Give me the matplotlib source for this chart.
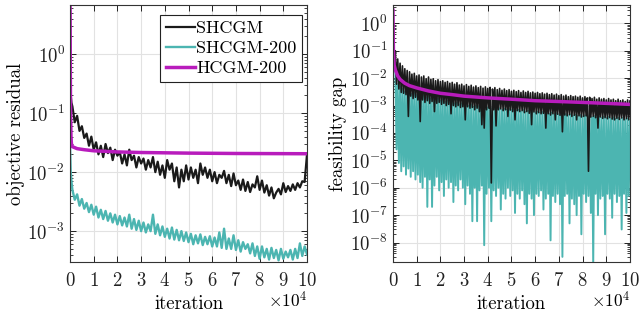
import numpy as np
import matplotlib
matplotlib.use("Agg")
import matplotlib.pyplot as plt

plt.rcParams['font.family'] = 'cmr10'
plt.rcParams['mathtext.fontset'] = 'cm'
plt.rcParams['axes.unicode_minus'] = False
plt.rcParams['axes.formatter.use_mathtext'] = True

c_black = '#1a1a1a'
c_teal = '#4cb5b1'
c_mag = '#b81cbc'

# ---------------- left panel: objective residual (x in units of 1e4) ----------------
x_grid = np.round(np.arange(0.1, 10.01, 0.1), 2)

shcgm_obj_start_x = [0.0, 0.03, 0.06]
shcgm_obj_start = [8.0, 0.2, 0.15]
shcgm_obj = [0.13, 0.07, 0.09, 0.05, 0.06, 0.038, 0.045, 0.028, 0.04, 0.024,
             0.032, 0.02, 0.028, 0.018, 0.03, 0.021, 0.026, 0.016, 0.024, 0.019,
             0.022, 0.014, 0.02, 0.013, 0.024, 0.016, 0.019, 0.012, 0.018, 0.014,
             0.017, 0.011, 0.016, 0.012, 0.018, 0.01, 0.015, 0.009, 0.013, 0.008,
             0.016, 0.011, 0.014, 0.007, 0.012, 0.0055, 0.011, 0.007, 0.013, 0.0075,
             0.012, 0.008, 0.011, 0.0065, 0.014, 0.009, 0.012, 0.008, 0.011, 0.007,
             0.01, 0.0065, 0.009, 0.008, 0.0105, 0.0065, 0.009, 0.0058, 0.0095, 0.006,
             0.0072, 0.005, 0.0075, 0.0048, 0.0068, 0.0046, 0.0062, 0.0055, 0.0085, 0.005,
             0.0072, 0.0045, 0.006, 0.004, 0.0055, 0.0036, 0.0045, 0.0052, 0.0042, 0.0065,
             0.0046, 0.0058, 0.0048, 0.0062, 0.005, 0.0065, 0.0055, 0.007, 0.0068, 0.02]

shcgm200_obj_start_x = [0.0, 0.03, 0.06]
shcgm200_obj_start = [0.03, 0.01, 0.007]
shcgm200_obj = [5.0e-3, 3.4e-3, 4.2e-3, 2.7e-3, 3.5e-3, 2.4e-3, 3.0e-3, 2.1e-3, 2.8e-3, 1.9e-3,
                2.6e-3, 1.7e-3, 2.3e-3, 1.6e-3, 2.2e-3, 1.5e-3, 2.0e-3, 1.4e-3, 1.9e-3, 1.3e-3,
                1.8e-3, 1.25e-3, 1.7e-3, 1.2e-3, 1.9e-3, 1.1e-3, 1.6e-3, 1.05e-3, 1.5e-3, 1.0e-3,
                1.4e-3, 0.95e-3, 1.3e-3, 1.0e-3, 1.9e-3, 0.9e-3, 1.3e-3, 0.85e-3, 1.2e-3, 0.8e-3,
                1.1e-3, 0.75e-3, 1.15e-3, 0.72e-3, 1.05e-3, 0.7e-3, 1.0e-3, 0.68e-3, 0.95e-3, 0.65e-3,
                0.9e-3, 0.6e-3, 0.85e-3, 0.62e-3, 0.88e-3, 0.58e-3, 0.8e-3, 0.6e-3, 0.82e-3, 0.55e-3,
                0.78e-3, 0.55e-3, 0.95e-3, 0.52e-3, 1.1e-3, 0.5e-3, 0.75e-3, 0.5e-3, 0.85e-3, 0.48e-3,
                0.7e-3, 0.45e-3, 0.65e-3, 0.5e-3, 0.6e-3, 0.42e-3, 0.62e-3, 0.38e-3, 0.55e-3, 0.34e-3,
                0.55e-3, 0.36e-3, 0.5e-3, 0.33e-3, 0.52e-3, 0.35e-3, 0.48e-3, 0.32e-3, 0.5e-3, 0.34e-3,
                0.45e-3, 0.36e-3, 0.48e-3, 0.33e-3, 0.5e-3, 0.35e-3, 0.62e-3, 0.38e-3, 0.55e-3, 0.4e-3]

hcgm_obj_x = [0, 0.01, 0.02, 0.04, 0.06, 0.1, 0.3, 0.6, 1, 2, 3, 5, 7, 10]
hcgm_obj = [8.0, 0.8, 0.15, 0.04, 0.03, 0.027, 0.025, 0.024, 0.023, 0.022, 0.0215, 0.021, 0.0207, 0.0205]

# ---------------- right panel: feasibility gap ----------------
# upper values at x_grid, lower values at x_grid + 0.05 (dense oscillation)
shcgm_feas_start_x = [0.0, 0.02, 0.05]
shcgm_feas_start = [3.0, 0.2, 0.08]
shcgm_feas_hi = [0.1, 0.05, 0.035, 0.028, 0.022, 0.019, 0.017, 0.014, 0.015, 0.012,
                 0.013, 0.011, 0.012, 0.0095, 0.011, 0.009, 0.0095, 0.008, 0.0088, 0.0075,
                 0.008, 0.007, 0.0075, 0.0065, 0.007, 0.006, 0.0068, 0.0056, 0.006, 0.0052,
                 0.0058, 0.005, 0.0055, 0.0047, 0.0052, 0.0045, 0.005, 0.0043, 0.0048, 0.0042,
                 0.0046, 0.004, 0.0045, 0.0038, 0.0042, 0.0036, 0.004, 0.0035, 0.0038, 0.0033,
                 0.0036, 0.0032, 0.0035, 0.003, 0.0034, 0.003, 0.0033, 0.0029, 0.0031, 0.0028,
                 0.003, 0.0027, 0.0029, 0.0026, 0.0028, 0.0025, 0.0027, 0.0024, 0.0026, 0.0023,
                 0.0025, 0.0022, 0.0024, 0.0021, 0.0023, 0.0021, 0.0022, 0.002, 0.0022, 0.0019,
                 0.0021, 0.0019, 0.002, 0.0018, 0.002, 0.0017, 0.0019, 0.0017, 0.0018, 0.0016,
                 0.0018, 0.0016, 0.0017, 0.0015, 0.0017, 0.0015, 0.0016, 0.0014, 0.0016, 0.0015]
shcgm_feas_lo = [0.006, 0.004, 0.003, 0.0028, 0.0025, 4e-4, 0.0022, 0.0018, 0.002, 0.0016,
                 2.6e-4, 0.0016, 0.0013, 0.0015, 0.0012, 0.0014, 6e-4, 0.0012, 0.0013, 0.0011,
                 0.0012, 0.001, 0.0011, 5e-4, 0.001, 0.0009, 0.001, 0.00085, 0.0009, 3e-4,
                 0.0009, 0.0008, 0.00085, 0.0007, 0.0008, 6e-4, 2e-4, 1.5e-4, 0.0007, 0.0008,
                 1.5e-6, 0.0007, 1.8e-4, 0.0007, 0.00075, 0.00065, 0.0007, 4e-4, 0.00068, 0.0006,
                 3e-4, 0.00065, 0.0006, 0.00065, 0.00055, 0.0006, 0.00052, 2e-4, 0.00058, 0.0005,
                 0.00055, 0.0005, 0.00052, 1.5e-4, 0.0005, 0.00045, 0.0005, 3e-4, 0.00048, 0.00044,
                 1.1e-4, 0.00045, 0.00042, 0.00046, 0.0004, 0.00044, 3e-4, 0.00042, 0.00038, 0.0004,
                 0.00042, 4e-6, 0.00038, 0.0004, 0.00036, 1.5e-4, 0.00038, 0.00034, 0.00036, 0.00033,
                 0.00036, 0.00032, 3e-4, 0.00034, 0.00031, 0.00035, 0.0003, 0.00033, 0.00031, 0.00032]

shcgm200_feas_start_x = [0.0, 0.02, 0.05]
shcgm200_feas_start = [2.0, 0.05, 0.02]
shcgm200_feas_hi = [0.02, 0.006, 0.005, 0.004, 0.0033, 0.0035, 0.003, 0.0027, 0.003, 0.0024,
                    0.0026, 0.0022, 0.0024, 0.002, 0.0022, 0.0018, 0.002, 0.0017, 0.0018, 0.0015,
                    0.0017, 0.0014, 0.0015, 0.0013, 0.0014, 0.0012, 0.0013, 0.0011, 0.0012, 0.0011,
                    0.0012, 0.001, 0.0011, 0.0009, 0.001, 0.00095, 0.0011, 0.0009, 0.00095, 0.00085,
                    0.0009, 0.0008, 0.00085, 0.00075, 0.0008, 0.0007, 0.00078, 0.0007, 0.00075, 0.00068,
                    0.00072, 0.00065, 0.0007, 0.00062, 0.00068, 0.0006, 0.00065, 0.00058, 0.00063, 0.00057,
                    0.0006, 0.00055, 0.00058, 0.00052, 0.00056, 0.0005, 0.00055, 0.00049, 0.00052, 0.00048,
                    0.0005, 0.00046, 0.00049, 0.00044, 0.00048, 0.00043, 0.00046, 0.00042, 0.00045, 0.0004,
                    0.00044, 0.0004, 0.00042, 0.00038, 0.00041, 0.00037, 0.0004, 0.00036, 0.00039, 0.00035,
                    0.00038, 0.00034, 0.00037, 0.00033, 0.00036, 0.00032, 0.00035, 0.00031, 0.00034, 0.0003]
shcgm200_feas_lo = [2.5e-5, 8e-6, 4e-6, 6e-6, 3e-6, 5e-6, 2.5e-6, 4e-6, 2e-6, 3e-6,
                    1.6e-6, 1e-6, 2.5e-6, 2e-7, 2e-6, 2e-7, 1.2e-6, 2.5e-6, 8e-7, 1.6e-6,
                    5e-7, 2e-6, 1e-6, 1.6e-6, 3e-7, 1.2e-6, 8e-7, 2e-6, 1e-6, 2.5e-7,
                    1.2e-6, 6e-7, 6e-8, 1e-6, 6e-8, 8e-7, 1.2e-6, 8e-9, 6e-7, 1e-6,
                    6e-8, 8e-7, 5e-7, 1e-6, 1.6e-7, 6e-7, 4e-7, 1e-6, 5e-7, 8e-7,
                    1.2e-7, 6e-7, 4e-7, 8e-7, 2.5e-7, 5e-8, 6e-7, 4e-7, 1e-7, 6e-7,
                    5e-7, 8e-7, 1.6e-7, 4e-7, 6e-7, 1.2e-8, 5e-7, 3e-7, 6e-7, 2.5e-7,
                    3e-9, 5e-7, 6e-7, 5e-8, 4e-7, 2.5e-7, 1e-7, 5e-7, 2e-8, 6e-7,
                    3e-7, 5e-7, 1.2e-7, 1.6e-9, 6e-7, 1e-7, 4e-7, 5e-7, 2e-8, 6e-7,
                    4e-7, 8e-8, 6e-7, 3e-7, 5e-7, 3e-8, 6e-7, 1.2e-7, 5e-7, 8e-7]

hcgm_feas_x = [0, 0.01, 0.02, 0.05, 0.1, 0.2, 0.3, 0.5, 0.7, 1, 1.5, 2, 2.5, 3, 4, 5, 6, 7, 8, 9, 10]
hcgm_feas = [3.0, 0.5, 0.1, 0.03, 0.02, 0.012, 0.009, 0.0065, 0.0053, 0.0044, 0.0034,
             0.0028, 0.0025, 0.0022, 0.0019, 0.0017, 0.0015, 0.0014, 0.0013, 0.0012, 0.0011]


def zigzag(start_x, start_y, hi, lo):
    xs = np.column_stack([x_grid, x_grid + 0.05]).ravel()
    ys = np.column_stack([hi, lo]).ravel()
    return np.concatenate([start_x, xs]), np.concatenate([start_y, ys])


fig = plt.figure(figsize=(6.4, 3.13), dpi=100)
ax1 = fig.add_axes([0.1094, 0.163, 0.3703, 0.821])
ax2 = fig.add_axes([0.614, 0.163, 0.3703, 0.821])

# left
l1, = ax1.plot(np.concatenate([shcgm_obj_start_x, x_grid]),
               np.concatenate([shcgm_obj_start, shcgm_obj]), color=c_black, lw=1.6)
l2, = ax1.plot(np.concatenate([shcgm200_obj_start_x, x_grid]),
               np.concatenate([shcgm200_obj_start, shcgm200_obj]), color=c_teal, lw=1.7)
l3, = ax1.plot(hcgm_obj_x, hcgm_obj, color=c_mag, lw=2.5)
ax1.set_ylim(3e-4, 6.8)
ax1.set_ylabel('objective residual', fontsize=13.5, labelpad=2)
leg = ax1.legend([l1, l2, l3], ['SHCGM', 'SHCGM-200', 'HCGM-200'],
                 loc='upper right', bbox_to_anchor=(0.98, 0.962), borderaxespad=0,
                 fontsize=13, fancybox=False, framealpha=1, edgecolor='#222222',
                 handlelength=1.6, handletextpad=0.1, borderpad=0.3, labelspacing=0.25)
leg.get_frame().set_linewidth(0.8)

# right
xb, yb = zigzag(shcgm_feas_start_x, shcgm_feas_start, shcgm_feas_hi, shcgm_feas_lo)
xt, yt = zigzag(shcgm200_feas_start_x, shcgm200_feas_start, shcgm200_feas_hi, shcgm200_feas_lo)
ax2.plot(xt, yt, color=c_teal, lw=1.4)
ax2.plot(xb, yb, color=c_black, lw=1.2)
ax2.plot(hcgm_feas_x, hcgm_feas, color=c_mag, lw=2.5)
ax2.set_ylim(1.95e-9, 4.66)
ax2.set_ylabel('feasibility gap', fontsize=13.5, labelpad=2)

for ax in (ax1, ax2):
    ax.set_yscale('log')
    ax.set_xlim(0, 10)
    ax.set_xticks(range(11))
    ax.set_xlabel('iteration', fontsize=13.5, labelpad=4)
    ax.grid(True, which='major', color='#e2e2e2', lw=0.8)
    ax.set_axisbelow(True)
    ax.tick_params(which='both', direction='in', top=True, right=True, labelsize=13.5,
                   colors='#222222')
    ax.tick_params(which='major', length=4, width=0.7)
    ax.tick_params(which='minor', length=2, width=0.6)
    ax.tick_params(axis='x', pad=7)
    ax.yaxis.set_major_locator(matplotlib.ticker.LogLocator(base=10, numticks=20))
    ax.yaxis.set_minor_locator(matplotlib.ticker.LogLocator(base=10, subs=np.arange(2, 10), numticks=20))
    ax.yaxis.set_minor_formatter(matplotlib.ticker.NullFormatter())
    for s in ax.spines.values():
        s.set_linewidth(0.8)
        s.set_color('#333333')
    ax.text(1.0, -0.19, r'$\times10^4$', transform=ax.transAxes, ha='right', va='bottom',
            fontsize=12.5)

fig.savefig('out.png', dpi=100)
